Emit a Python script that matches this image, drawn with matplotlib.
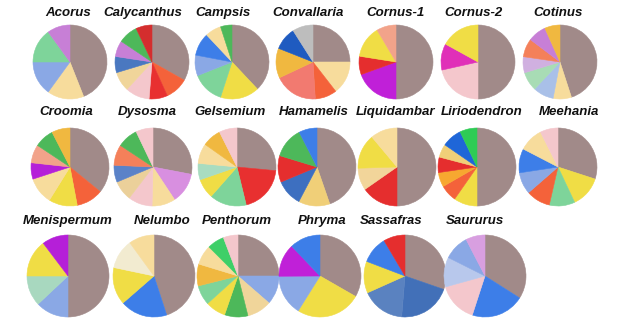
import matplotlib
matplotlib.use('Agg')
import matplotlib.pyplot as plt

plt.rcParams['font.family'] = ['Liberation Sans', 'DejaVu Sans']

BROWN = '#a18a89'

# genus names, row by row
genera = ['Acorus', 'Calycanthus', 'Campsis', 'Convallaria', 'Cornus-1', 'Cornus-2', 'Cotinus',
          'Croomia', 'Dysosma', 'Gelsemium', 'Hamamelis', 'Liquidambar', 'Liriodendron', 'Meehania',
          'Menispermum', 'Nelumbo', 'Penthorum', 'Phryma', 'Sassafras', 'Saururus']

# slice shares, clockwise from 12 o'clock (first slice = dominant brown)
shares = {
    'Acorus':       [0.44, 0.16, 0.15, 0.15, 0.10],
    'Calycanthus':  [0.33, 0.10, 0.08, 0.105, 0.085, 0.07, 0.07, 0.085, 0.07],
    'Campsis':      [0.38, 0.17, 0.14, 0.09, 0.10, 0.07, 0.05],
    'Convallaria':  [0.25, 0.145, 0.095, 0.19, 0.13, 0.10, 0.09],
    'Cornus-1':     [0.50, 0.195, 0.08, 0.14, 0.085],
    'Cornus-2':     [0.50, 0.215, 0.115, 0.17],
    'Cotinus':      [0.45, 0.08, 0.09, 0.083, 0.07, 0.08, 0.08, 0.067],
    'Croomia':      [0.355, 0.11, 0.117, 0.11, 0.067, 0.075, 0.08, 0.075],
    'Dysosma':      [0.28, 0.127, 0.097, 0.10, 0.083, 0.07, 0.086, 0.086, 0.071],
    'Gelsemium':    [0.265, 0.197, 0.153, 0.082, 0.068, 0.083, 0.078, 0.074],
    'Hamamelis':    [0.447, 0.13, 0.11, 0.11, 0.128, 0.075],
    'Liquidambar':  [0.50, 0.153, 0.092, 0.144, 0.111],
    'Liriodendron': [0.50, 0.097, 0.07, 0.06, 0.064, 0.055, 0.083, 0.071],
    'Meehania':     [0.30, 0.13, 0.106, 0.10, 0.09, 0.10, 0.10, 0.074],
    'Menispermum':  [0.50, 0.13, 0.12, 0.147, 0.103],
    'Nelumbo':      [0.45, 0.186, 0.147, 0.117, 0.10],
    'Penthorum':    [0.25, 0.114, 0.097, 0.092, 0.08, 0.078, 0.086, 0.078, 0.067, 0.058],
    'Phryma':       [0.333, 0.256, 0.16, 0.13, 0.121],
    'Sassafras':    [0.303, 0.21, 0.17, 0.125, 0.107, 0.085],
    'Saururus':     [0.34, 0.21, 0.157, 0.117, 0.10, 0.076],
}

slice_colors = {
    'Acorus':       [BROWN, '#f7dc9c', '#8aa8e5', '#7ed49a', '#c77fd6'],
    'Calycanthus':  [BROWN, '#f4623a', '#e83030', '#f4c7cc', '#f0d59a', '#4a78c0', '#c77fd6', '#4db85a', '#d42e2e'],
    'Campsis':      [BROWN, '#f0dd45', '#7ed49a', '#8aa8e5', '#3d7ee8', '#f7dc9c', '#4db85a'],
    'Convallaria':  [BROWN, '#f7dc9c', '#f4623a', '#f27a70', '#f0b840', '#1f5bc0', '#bdbdbd'],
    'Cornus-1':     [BROWN, '#c020d8', '#e52e2e', '#f0dd45', '#f2a38a'],
    'Cornus-2':     [BROWN, '#f4c7cc', '#e030b8', '#f0dd45'],
    'Cotinus':      [BROWN, '#f7dc9c', '#a9c0e8', '#a8dcb5', '#d0b0e0', '#f4805a', '#c77fd6', '#f0b840'],
    'Croomia':      [BROWN, '#f4623a', '#f0dd45', '#f7dc9c', '#b51fd8', '#f2a38a', '#4db85a', '#f0b840'],
    'Dysosma':      [BROWN, '#d88fe0', '#f7dc9c', '#f4c7cc', '#ebd09a', '#5a82c8', '#f4805a', '#4db85a', '#f4c7cc'],
    'Gelsemium':    [BROWN, '#e83030', '#7ed49a', '#f0dd45', '#a8dcc0', '#f7dc9c', '#f0b840', '#f4c7cc'],
    'Hamamelis':    [BROWN, '#f0cf78', '#3d6fc0', '#e52e2e', '#4db85a', '#3d7ee8'],
    'Liquidambar':  [BROWN, '#e52e2e', '#f2d59a', '#f0dd45', '#f7dc9c'],
    'Liriodendron': [BROWN, '#f0dd45', '#f4623a', '#f7a830', '#e52e2e', '#f0cf78', '#1f66d8', '#2ecc55'],
    'Meehania':     [BROWN, '#f0dd45', '#7ed49a', '#f4623a', '#8aa8e5', '#3d7ee8', '#f7dc9c', '#f4c7cc'],
    'Menispermum':  [BROWN, '#8aa8e5', '#a8d8bf', '#f0dd45', '#b51fd8'],
    'Nelumbo':      [BROWN, '#3d7ee8', '#f0dd45', '#f2ebd0', '#f7dc9c'],
    'Penthorum':    [BROWN, '#8aa8e5', '#f0d59a', '#4db85a', '#f0dd45', '#7ed49a', '#f0b840', '#f7dc9c', '#3ecf68', '#f4c7cc'],
    'Phryma':       [BROWN, '#f0dd45', '#8aa8e5', '#c020d8', '#3d7ee8'],
    'Sassafras':    [BROWN, '#4270b8', '#5a82c0', '#f0dd45', '#3d7ee8', '#e52e2e'],
    'Saururus':     [BROWN, '#3d7ee8', '#f4c7cc', '#b8c8ec', '#8aa8e5', '#d89fe0'],
}

# layout (pixels, origin top-left)
W, H = 617, 323
pie_x = [70, 152, 232, 313, 396, 478, 560,
         70, 153, 237, 317, 397, 477, 558,
         68, 154, 238, 320, 405, 485]
pie_y = [62] * 7 + [167] * 7 + [276] * 6
pie_r = [37] * 7 + [39] * 7 + [41] * 6
title_x = [68, 143, 223, 308, 395, 473, 558,
           66, 147, 230, 314, 396, 482, 569,
           68, 162, 237, 322, 391, 475]
title_y = [13] * 7 + [112] * 7 + [221] * 6

fig = plt.figure(figsize=(W / 100, H / 100), dpi=100)
ax = fig.add_axes([0, 0, 1, 1])
ax.set_xlim(0, W)
ax.set_ylim(0, H)
ax.set_aspect('equal')
ax.axis('off')

for i, g in enumerate(genera):
    wedges, _ = ax.pie(shares[g], colors=slice_colors[g], startangle=90, counterclock=False,
                       center=(pie_x[i], H - pie_y[i]), radius=pie_r[i])
    for w in wedges:
        w.set_edgecolor(w.get_facecolor())
        w.set_linewidth(0.4)
    ax.text(title_x[i], H - title_y[i], g, ha='center', va='center',
            fontsize=9.5, fontweight='bold', fontstyle='italic', color='#111111')

ax.set_xlim(0, W)
ax.set_ylim(0, H)
fig.savefig('out.png', dpi=100, facecolor='white')
